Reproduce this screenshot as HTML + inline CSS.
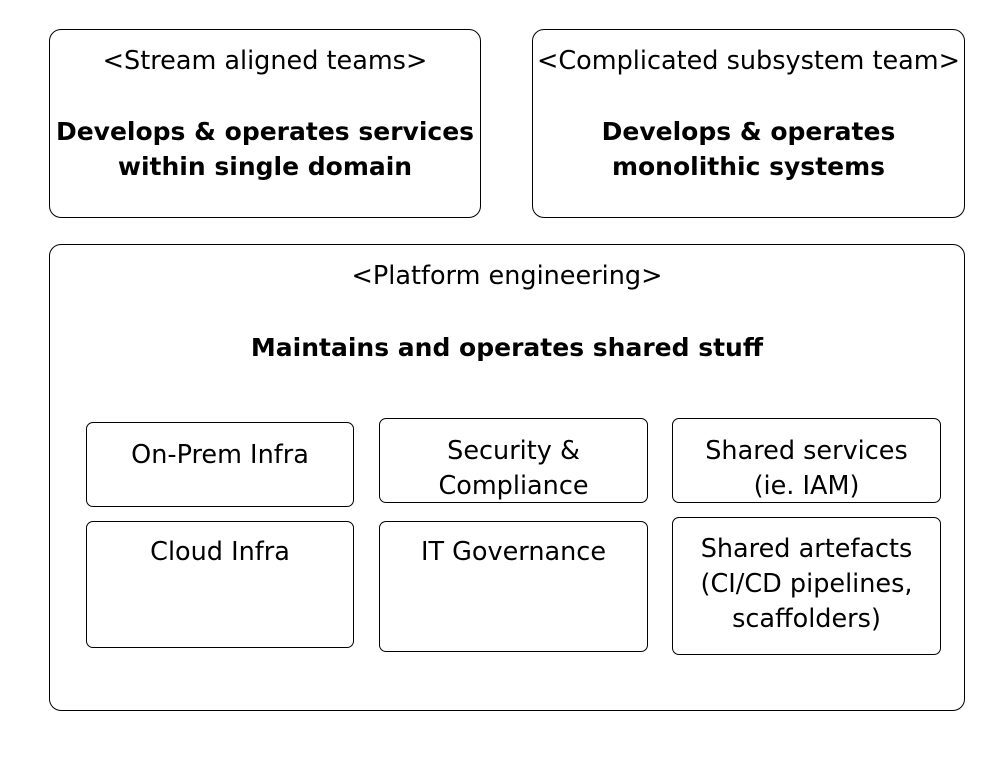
<!DOCTYPE html>
<html><head><meta charset="utf-8"><style>
body{margin:0;width:986px;height:764px;background:#fff;position:relative;font-family:"DejaVu Sans","Liberation Sans",sans-serif;color:#000;overflow:hidden}
.b{position:absolute;border:1.5px solid #000;border-radius:12px;box-sizing:border-box}
.t{position:absolute;left:-20px;right:-20px;text-align:center;font-size:25.5px;line-height:35px;white-space:nowrap}
.bold{font-weight:bold;font-size:25px}
.i{border-radius:7px}
</style></head><body>
<div class="b" style="left:49px;top:29px;width:432px;height:189px">
 <div class="t" style="top:14px">&lt;Stream aligned teams&gt;</div>
 <div class="t bold" style="top:84px">Develops &amp; operates services<br>within single domain</div>
</div>
<div class="b" style="left:532px;top:29px;width:433px;height:189px">
 <div class="t" style="top:14px">&lt;Complicated subsystem team&gt;</div>
 <div class="t bold" style="top:84px">Develops &amp; operates<br>monolithic systems</div>
</div>
<div class="b" style="left:49px;top:244px;width:916px;height:467px">
 <div class="t" style="top:14px">&lt;Platform engineering&gt;</div>
 <div class="t bold" style="top:85px">Maintains and operates shared stuff</div>
</div>
<div class="b i" style="left:86px;top:422px;width:268px;height:85px"><div class="t" style="top:15px">On-Prem Infra</div></div>
<div class="b i" style="left:379px;top:418px;width:269px;height:85px"><div class="t" style="top:15px">Security &amp;<br>Compliance</div></div>
<div class="b i" style="left:672px;top:418px;width:269px;height:85px"><div class="t" style="top:15px">Shared services<br>(ie. IAM)</div></div>
<div class="b i" style="left:86px;top:521px;width:268px;height:127px"><div class="t" style="top:13px">Cloud Infra</div></div>
<div class="b i" style="left:379px;top:521px;width:269px;height:131px"><div class="t" style="top:13px">IT Governance</div></div>
<div class="b i" style="left:672px;top:517px;width:269px;height:138px"><div class="t" style="top:14px">Shared artefacts<br>(CI/CD pipelines,<br>scaffolders)</div></div>
</body></html>
